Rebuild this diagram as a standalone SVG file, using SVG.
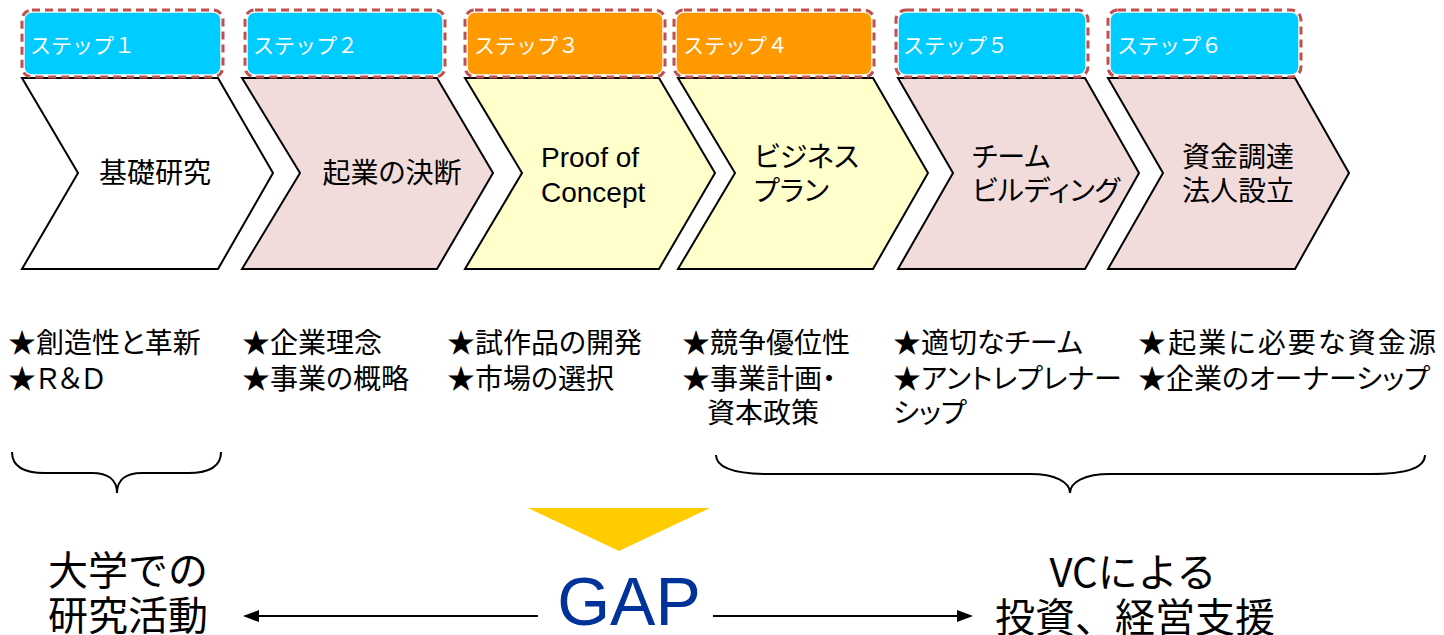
<svg xmlns="http://www.w3.org/2000/svg" width="1444" height="635" viewBox="0 0 1444 635">
<style>
.jp{font-family:"Noto Sans CJK JP","Noto Sans",sans-serif;font-feature-settings:"palt";}
.jpf{font-family:"Noto Sans CJK JP","Noto Sans",sans-serif;}
.en{font-family:"Liberation Sans",Arial,sans-serif;}
.chev{stroke:#000;stroke-width:2;stroke-linejoin:miter;}
.blue{fill:#00CCFF;stroke:#fff;stroke-width:1.5;}
.orange{fill:#FF9900;stroke:#fff;stroke-width:1.5;}
.dash{fill:none;stroke:#C0504D;stroke-width:3;stroke-dasharray:8 5;}
.step{font-size:21px;fill:#fff;}
.ct{font-size:28px;fill:#000;}
.bl{font-size:28px;fill:#000;}
.big{font-size:40px;fill:#000;}
.brace{fill:none;stroke:#000;stroke-width:2;}
.conn{stroke:#000;stroke-width:2;fill:none;}
</style>
<defs>
<marker id="ah" viewBox="0 0 16 12" refX="14" refY="6" markerWidth="16" markerHeight="12" markerUnits="userSpaceOnUse" orient="auto-start-reverse">
<path d="M0,0 L16,6 L0,12 Z" fill="#000"/>
</marker>
</defs>

<g id="step1">
<polygon class="chev" fill="#fff" points="22,78 218,78 273,173 218,269 22,269 78,173"/>
<rect class="blue" x="24" y="12" width="197" height="63" rx="8"/>
<rect class="dash" x="22" y="10" width="201" height="67" rx="10"/>
<text class="jpf step" x="30" y="53">ステップ１</text>
<text class="jp ct" x="155" y="183" text-anchor="middle">基礎研究</text>
</g>

<g id="step2">
<polygon class="chev" fill="#F2DCDB" points="242,78 437,78 493,173 437,269 242,269 300,173"/>
<rect class="blue" x="247" y="12" width="196" height="63" rx="8"/>
<rect class="dash" x="245" y="10" width="200" height="67" rx="10"/>
<text class="jpf step" x="253" y="53">ステップ２</text>
<text class="jp ct" x="392" y="183" text-anchor="middle">起業の決断</text>
</g>

<g id="step3">
<polygon class="chev" fill="#FFFFCC" points="465,78 659,78 715,173 659,269 465,269 522,173"/>
<rect class="orange" x="467" y="12" width="196" height="63" rx="8"/>
<rect class="dash" x="465" y="10" width="200" height="67" rx="10"/>
<text class="jpf step" x="474" y="53">ステップ３</text>
<text class="en ct" x="541" y="167">Proof of</text>
<text class="en ct" x="541" y="202">Concept</text>
</g>

<g id="step4">
<polygon class="chev" fill="#FFFFCC" points="678,78 873,78 928,173 873,269 678,269 735,173"/>
<rect class="orange" x="676" y="12" width="196" height="63" rx="8"/>
<rect class="dash" x="674" y="10" width="200" height="67" rx="10"/>
<text class="jpf step" x="683" y="53">ステップ４</text>
<text class="jp ct" x="754" y="167">ビジネス</text>
<text class="jp ct" x="754" y="201">プラン</text>
</g>

<g id="step5">
<polygon class="chev" fill="#F2DCDB" points="898,78 1085,78 1139,173 1085,269 898,269 953,173"/>
<rect class="blue" x="898" y="12" width="188" height="63" rx="8"/>
<rect class="dash" x="896" y="10" width="192" height="67" rx="10"/>
<text class="jpf step" x="903" y="53">ステップ５</text>
<text class="jp ct" x="972" y="167">チーム</text>
<text class="jp ct" x="972" y="201">ビルディング</text>
</g>

<g id="step6">
<polygon class="chev" fill="#F2DCDB" points="1108,78 1295,78 1349,173 1295,269 1108,269 1163,173"/>
<rect class="blue" x="1110" y="12" width="189" height="63" rx="8"/>
<rect class="dash" x="1108" y="10" width="193" height="67" rx="10"/>
<text class="jpf step" x="1117" y="53">ステップ６</text>
<text class="jp ct" x="1182" y="167">資金調達</text>
<text class="jp ct" x="1182" y="201">法人設立</text>
</g>

<g id="bullets">
<text class="jp bl" x="8" y="353">★創造性と革新</text>
<text class="jp bl" x="8" y="389">★Ｒ＆Ｄ</text>
<text class="jp bl" x="242" y="353">★企業理念</text>
<text class="jp bl" x="242" y="389">★事業の概略</text>
<text class="jp bl" x="447" y="353">★試作品の開発</text>
<text class="jp bl" x="447" y="389">★市場の選択</text>
<text class="jp bl" x="682" y="353">★競争優位性</text>
<text class="jp bl" x="682" y="389">★事業計画・</text>
<text class="jp bl" x="707" y="423">資本政策</text>
<text class="jp bl" x="893" y="353">★適切なチーム</text>
<text class="jp bl" x="893" y="389">★アントレプレナー</text>
<text class="jp bl" x="893" y="423">シップ</text>
<text class="jp bl" x="1138" y="353" textLength="298">★起業に必要な資金源</text>
<text class="jp bl" x="1138" y="389">★企業のオーナーシップ</text>
</g>

<g id="braces">
<path class="brace" d="M12,452 C12,466 22,473 45,473 L92,473 C108,473 117,480 117,493 C117,480 126,473 142,473 L188,473 C211,473 221,466 221,452"/>
<path class="brace" d="M716,455 C716,468 735,474 770,474 L1030,474 C1055,474 1070,482 1070,493 C1070,482 1085,474 1110,474 L1371,474 C1406,474 1425,468 1425,455"/>
</g>

<g id="gap">
<polygon points="528,508 710,508 619,551" fill="#FFCC00"/>
<text class="en" x="629" y="625" font-size="68" fill="#003399" text-anchor="middle">GAP</text>
</g>

<g id="university">
<text class="jpf big" x="48" y="585">大学での</text>
<text class="jpf big" x="48" y="630">研究活動</text>
</g>

<g id="vc">
<text class="jpf big" x="1133" y="587" text-anchor="middle">VCによる</text>
<text class="jpf big" x="995" y="632">投資、経営支援</text>
</g>

<g id="connectors">
<path class="conn" d="M538,616 L245,616" marker-end="url(#ah)"/>
<path class="conn" d="M713,616 L971,616" marker-end="url(#ah)"/>
</g>
</svg>
